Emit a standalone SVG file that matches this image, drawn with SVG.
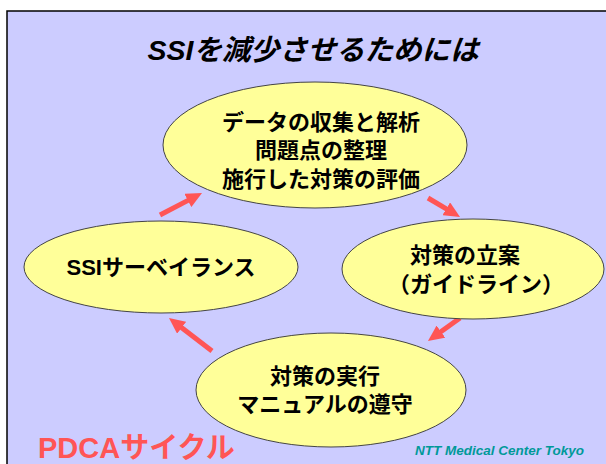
<svg xmlns="http://www.w3.org/2000/svg" width="606" height="464" viewBox="0 0 606 464">
<defs>
<style>
.bg{fill:#ccccff;stroke:#000;stroke-width:1.5}
.node ellipse{fill:#ffff99;stroke:#444;stroke-width:1}
.t{font-family:"Liberation Sans","Noto Sans CJK JP",sans-serif;font-weight:bold;font-size:22px;fill:#000;text-anchor:middle}
.title{font-family:"Liberation Sans","Noto Sans CJK JP",sans-serif;font-weight:bold;font-style:italic;font-size:28.5px;fill:#000;text-anchor:middle}
.pdca{font-family:"Liberation Sans","Noto Sans CJK JP",sans-serif;font-weight:bold;font-size:29px;fill:#ff5555}
.ntt{font-family:"Liberation Sans",sans-serif;font-weight:bold;font-style:italic;font-size:13.5px;fill:#009999}
.arr{stroke:#ff5555;stroke-width:5;fill:none;marker-end:url(#ah)}
</style>
<marker id="ah" markerUnits="userSpaceOnUse" markerWidth="16" markerHeight="15" refX="4" refY="7.5" orient="auto">
<path d="M0,0 L16,7.5 L0,15 z" fill="#ff5555"/>
</marker>
</defs>
<rect class="bg" x="7" y="11" width="620" height="470"/>
<text class="title" x="313" y="60">SSIを減少させるためには</text>
<g id="connectors">
<line class="arr" x1="160" y1="215" x2="191.4" y2="198.6"/>
<line class="arr" x1="428" y1="198" x2="449.7" y2="210.9"/>
<line class="arr" x1="460" y1="318" x2="437.7" y2="334"/>
<line class="arr" x1="212" y1="351" x2="178.5" y2="325.3"/>
</g>
<g id="node-analysis" class="node">
<ellipse cx="315" cy="145" rx="152" ry="63"/>
<text class="t" x="321" y="130">データの収集と解析</text>
<text class="t" x="321" y="158">問題点の整理</text>
<text class="t" x="321" y="187">施行した対策の評価</text>
</g>
<g id="node-plan" class="node">
<ellipse cx="473" cy="269" rx="131" ry="50"/>
<text class="t" x="465" y="263">対策の立案</text>
<text class="t" x="476" y="292">（ガイドライン）</text>
</g>
<g id="node-do" class="node">
<ellipse cx="331" cy="390" rx="135" ry="57"/>
<text class="t" x="325" y="384">対策の実行</text>
<text class="t" x="325" y="412">マニュアルの遵守</text>
</g>
<g id="node-surveillance" class="node">
<ellipse cx="161" cy="267" rx="137" ry="46"/>
<text class="t" x="161" y="275">SSIサーベイランス</text>
</g>
<text class="pdca" x="38" y="458">PDCAサイクル</text>
<text class="ntt" x="415" y="455">NTT Medical Center Tokyo</text>
</svg>
